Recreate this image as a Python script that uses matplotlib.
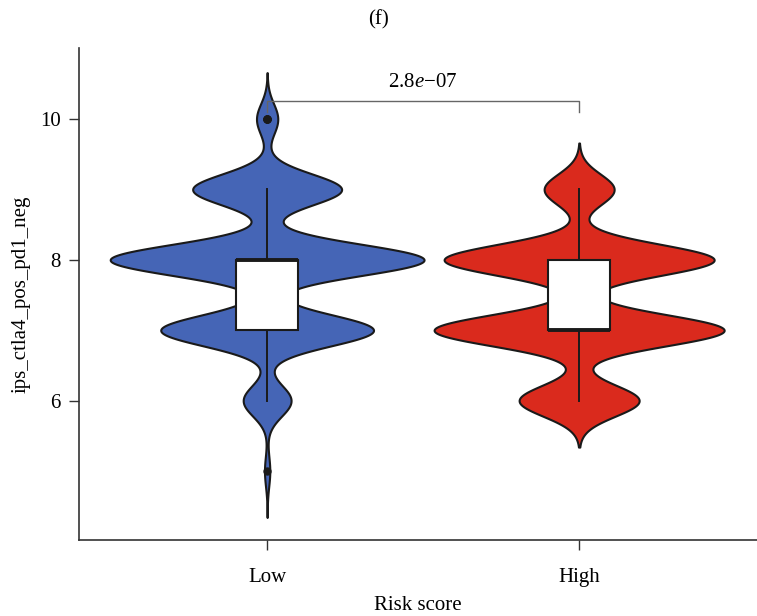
import matplotlib
matplotlib.use("Agg")
import matplotlib.pyplot as plt
import numpy as np

plt.rcParams["font.family"] = ["Liberation Serif", "DejaVu Serif"]
plt.rcParams["mathtext.fontset"] = "custom"
plt.rcParams["mathtext.rm"] = "Liberation Serif"
plt.rcParams["mathtext.it"] = "Liberation Serif:italic"

# Score values and how many samples have each, per risk group
GROUPS = ["Low", "High"]
LOW_VALUES = [5, 6, 7, 8, 9, 10]
LOW_COUNTS = [1, 9, 40, 59, 28, 4]
HIGH_VALUES = [6, 7, 8, 9]
HIGH_COUNTS = [12, 29, 27, 7]
P_LABEL = "2.8$\\mathit{e}$\u221207"

COLORS = ["#4565B6", "#DA2A1D"]
BW = 0.22
MAX_HALF_WIDTH = 0.503
FS = 15


def kde(samples, bw):
    """Gaussian density on a grid reaching 3 bandwidths past the data"""
    grid = np.linspace(samples.min() - 3 * bw, samples.max() + 3 * bw, 600)
    dens = np.exp(-0.5 * ((grid[:, None] - samples[None, :]) / bw) ** 2).sum(axis=1)
    dens = dens / (len(samples) * bw * np.sqrt(2 * np.pi))
    return grid, dens


samples = [np.repeat(LOW_VALUES, LOW_COUNTS).astype(float),
           np.repeat(HIGH_VALUES, HIGH_COUNTS).astype(float)]

fig = plt.figure(figsize=(7.57, 6.16), dpi=100)
ax = fig.add_axes([79 / 757, 76 / 616, 678 / 757, 492 / 616])

# Violins, scaled by area (common density scale)
curves = [kde(s, BW) for s in samples]
dmax = max(d.max() for _, d in curves)
for i, (grid, dens) in enumerate(curves):
    pos = i + 1
    half = dens / dmax * MAX_HALF_WIDTH
    ax.fill_betweenx(grid, pos - half, pos + half, facecolor=COLORS[i],
                     edgecolor="#1a1a1a", linewidth=1.5, zorder=2)

# Boxplots on top
ax.boxplot(samples, positions=[1, 2], widths=0.2, patch_artist=True,
           showcaps=False,
           boxprops=dict(facecolor="white", edgecolor="#1a1a1a", linewidth=1.5),
           whiskerprops=dict(color="#1a1a1a", linewidth=1.4),
           medianprops=dict(color="#1a1a1a", linewidth=2.8),
           flierprops=dict(marker="o", markerfacecolor="#1a1a1a",
                           markeredgecolor="#1a1a1a", markersize=5),
           zorder=3)

# Significance bracket
ax.plot([1, 1, 2, 2], [10.1, 10.255, 10.255, 10.1], color="#666666",
        linewidth=1.0, zorder=4)
ax.text(1.5, 10.52, P_LABEL, ha="center", va="center", fontsize=FS)

ax.set_xlim(0.397, 0.397 + 678 / 312)
ax.set_ylim(4.02, 11.01)
ax.set_xticks([1, 2])
ax.set_xticklabels(GROUPS)
ax.set_yticks([6, 8, 10])
ax.tick_params(axis="both", labelsize=FS, length=7, width=1.0, color="#333333")
ax.tick_params(axis="y", pad=6)
ax.tick_params(axis="x", pad=13)

for side in ["top", "right"]:
    ax.spines[side].set_visible(False)
for side in ["left", "bottom"]:
    ax.spines[side].set_color("#333333")
    ax.spines[side].set_linewidth(1.2)

ax.set_xlabel("Risk score", fontsize=FS, labelpad=7)
ax.set_ylabel("ips_ctla4_pos_pd1_neg", fontsize=FS, labelpad=7)

fig.text(0.5, 1 - 20 / 616, "(f)", ha="center", va="center", fontsize=FS)

fig.savefig("out.png", dpi=100)
